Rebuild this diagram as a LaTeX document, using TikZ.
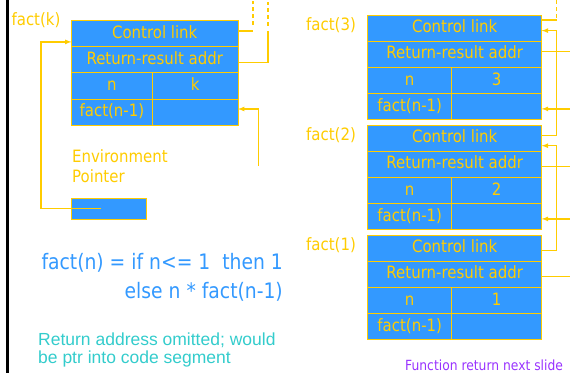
\documentclass[tikz,border=0pt]{standalone}
\usepackage{fontspec}
\setmainfont[FakeStretch=0.88]{DejaVu Sans}
\newfontfamily\notefont{Liberation Sans}
\usepackage{tikz}
\usetikzlibrary{arrows}

\definecolor{slotblue}{RGB}{51,153,255}
\definecolor{linkyellow}{RGB}{255,204,0}
\definecolor{notecyan}{RGB}{51,204,204}
\definecolor{hintpurple}{RGB}{153,51,255}

\begin{document}
\begin{tikzpicture}[x=1pt,y=-1pt,
		cell/.style={draw=linkyellow,fill=slotblue,text=linkyellow,line width=1pt,anchor=north west,
			inner sep=0pt,outer sep=0pt,minimum height=26.2pt,text height=12.5pt,text depth=3.5pt,
			font=\fontsize{17}{20}\selectfont},
		link/.style={draw=linkyellow,line width=1.2pt},
		dashlink/.style={link,dash pattern=on 4pt off 3pt},
		lbl/.style={text=linkyellow,inner sep=0pt,font=\fontsize{17}{20}\selectfont}]
	\useasboundingbox (0,0) rectangle (570,373);
	\fill[black] (6,0) rectangle (8.7,373);

	% frame for fact(k)
	\node[lbl] (Kname) at (36,20) {fact(k)};
	\node[cell,minimum width=166.5pt] (Kcl) at (71.5,20.5) {Control link};
	\node[cell,minimum width=166.5pt] (Krr) at (Kcl.south west) {Return-result addr};
	\node[cell,minimum width=80.8pt] (Kn) at (Krr.south west) {n};
	\node[cell,minimum width=85.7pt] (Knv) at (Kn.north east) {k};
	\node[cell,minimum width=80.8pt] (Kf) at (Kn.south west) {fact(n-1)};
	\node[cell,minimum width=85.7pt] (Kfv) at (Kf.north east) {};

	\draw[link] ([yshift=2.7pt]Kcl.east) -- ++(15,0) coordinate (Kup);
	\draw[dashlink] ([yshift=5.7pt]Kup) -- ++(0,-24);
	\draw[link] ([yshift=-2.4pt]Krr.east) -- ++(30,0) -- ++(0,-31) coordinate (Kup2);
	\draw[dashlink] ([yshift=5.7pt]Kup2) -- ++(0,-24);

	\coordinate (Kret) at (258.3,166);
	\draw[link,-latex] (Kret) |- ([yshift=3.2pt]Kfv.east);

	% environment pointer
	\node[lbl,anchor=base west] (envA) at (72,162.3) {Environment};
	\node[lbl,anchor=base west] (envB) at (72,182.3) {Pointer};
	\node[cell,minimum width=75.7pt,minimum height=21pt] (Kenv) at (71,198.3) {};
	\coordinate (Kenvp) at ([xshift=30pt]Kenv.west);
	\draw[link,-latex] (Kenvp) -- ++(-60,0) |- ([yshift=-8.3pt]Kcl.west);

	% stack of frames
	\foreach \v/\yy in {3/15,2/125,1/235} {
		\node[lbl] (F\v-name) at (331,\yy+10) {fact(\v)};
		\node[cell,minimum width=174pt] (F\v-cl) at (367.7,\yy) {Control link};
		\node[cell,minimum width=174pt] (F\v-rr) at (F\v-cl.south west) {Return-result addr};
		\node[cell,minimum width=84pt] (F\v-n) at (F\v-rr.south west) {n};
		\node[cell,minimum width=90pt] (F\v-nv) at (F\v-n.north east) {\v};
		\node[cell,minimum width=84pt] (F\v-f) at (F\v-n.south west) {fact(n-1)};
		\node[cell,minimum width=90pt] (F\v-fv) at (F\v-f.north east) {};
	}

	% control links
	\draw[link] ([yshift=8.2pt]F3-cl.east) -- ++(15,0) coordinate (F3-up);
	\draw[dashlink] ([yshift=2pt]F3-up) -- ++(0,-20);
	\draw[link,-latex] ([yshift=2.4pt]F2-cl.east) -- ++(15,0) |- ([yshift=-2.5pt]F3-cl.east);
	\draw[link,-latex] ([yshift=-2.6pt]F1-cl.east) -- ++(15,0) |- ([yshift=-7.6pt]F2-cl.east);

	% return-result addr and fact(n-1) slots
	\foreach \v/\s in {3/2.8,2/-2.3,1/-2.3}
		\draw[link] ([yshift=\s pt]F\v-rr.east) -- ++(30,0) coordinate (F\v-out);
	\foreach \v in {3,2}
		\draw[link,latex-] ([yshift=-2.2pt]F\v-fv.east) -- ++(30,0) coordinate (F\v-in);

	% code
	\node[anchor=base east,text=slotblue,inner sep=0pt,font=\fontsize{21.3}{24}\selectfont] (rule1) at (283,269) {fact(n) = if n<= 1\ \ then 1};
	\node[anchor=base east,text=slotblue,inner sep=0pt,font=\fontsize{21.3}{24}\selectfont] (rule2) at (283,298) {else n * fact(n-1)};

	\node[anchor=base west,text=notecyan,inner sep=0pt,font=\notefont\fontsize{17.5}{20}\selectfont] (note1) at (38,345) {Return address omitted; would};
	\node[anchor=base west,text=notecyan,inner sep=0pt,font=\notefont\fontsize{17.5}{20}\selectfont] (note2) at (38,363) {be ptr into code segment};

	\node[anchor=base west,text=hintpurple,inner sep=0pt,font=\fontsize{14}{16}\selectfont] (hint) at (405,370) {Function return next slide};
\end{tikzpicture}
\end{document}
